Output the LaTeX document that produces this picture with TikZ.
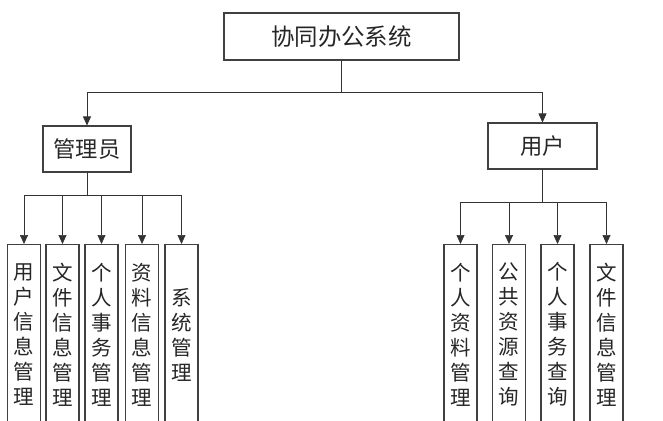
\documentclass[tikz,border=0pt]{standalone}
\usepackage{fontspec}
\usepackage{xcolor}
\usepackage{tikz}
\usetikzlibrary{arrows.meta, positioning, calc}
\newfontfamily\cjk{Noto Sans CJK SC}

\begin{document}
\begin{tikzpicture}[
        x=0.03cm, y=-0.03cm,
        box/.style={rectangle, draw=black!75, line width=0.9pt, inner sep=0pt, text=black!85, font=\cjk\fontsize{#1}{#1}\selectfont},
        box/.default=19,
        leaf/.style={rectangle, draw=black!75, line width=0.9pt, inner sep=0pt, anchor=north, minimum width=0.99cm, minimum height=5.4cm, text width=0.9cm, align=center, text=black!85, font=\cjk\fontsize{17.5}{21.3}\selectfont},
        arrow/.style={-{Triangle[length=0.27cm, width=0.24cm]}, line width=0.6pt, color=black!80},
        link/.style={line width=0.6pt, color=black!80}
    ]
    \path[use as bounding box, clip] (0,0) rectangle (663,421);

    \node[box=20, minimum width=7.05cm, minimum height=1.41cm] (sys) at (341.5,36.5) {协同办公系统};
    \node[box, minimum width=2.64cm, minimum height=1.38cm] (admin) at (87,149) {管理员};
    \node[box, minimum width=3.27cm, minimum height=1.38cm] (user) at (542.5,146) {用户};

    % admin functions
    \node[leaf] (a1) at (24,244) {用\\户\\信\\息\\管\\理};
    \node[leaf] (a2) at (62.5,244) {文\\件\\信\\息\\管\\理};
    \node[leaf] (a3) at (101.5,244) {个\\人\\事\\务\\管\\理};
    \node[leaf] (a4) at (142,244) {资\\料\\信\\息\\管\\理};
    \node[leaf] (a5) at (181.5,244) {系\\统\\管\\理};

    % user functions
    \node[leaf] (u1) at (460.5,244) {个\\人\\资\\料\\管\\理};
    \node[leaf] (u2) at (509,244) {公\\共\\资\\源\\查\\询};
    \node[leaf] (u3) at (557.5,244) {个\\人\\事\\务\\查\\询};
    \node[leaf] (u4) at (606.5,244) {文\\件\\信\\息\\管\\理};

    \draw[link] (sys.south) -- ++(0,32) coordinate (split);
    \draw[arrow] (split) -| (admin.north);
    \draw[arrow] (split) -| (user.north);

    \foreach \n in {a1,a2,a3,a4,a5}
        \draw[arrow] (admin.south) -- ++(0,23) -| (\n.north);
    \foreach \n in {u1,u2,u3,u4}
        \draw[arrow] (user.south) -- ++(0,33) -| (\n.north);
    \end{tikzpicture}
\end{document}
